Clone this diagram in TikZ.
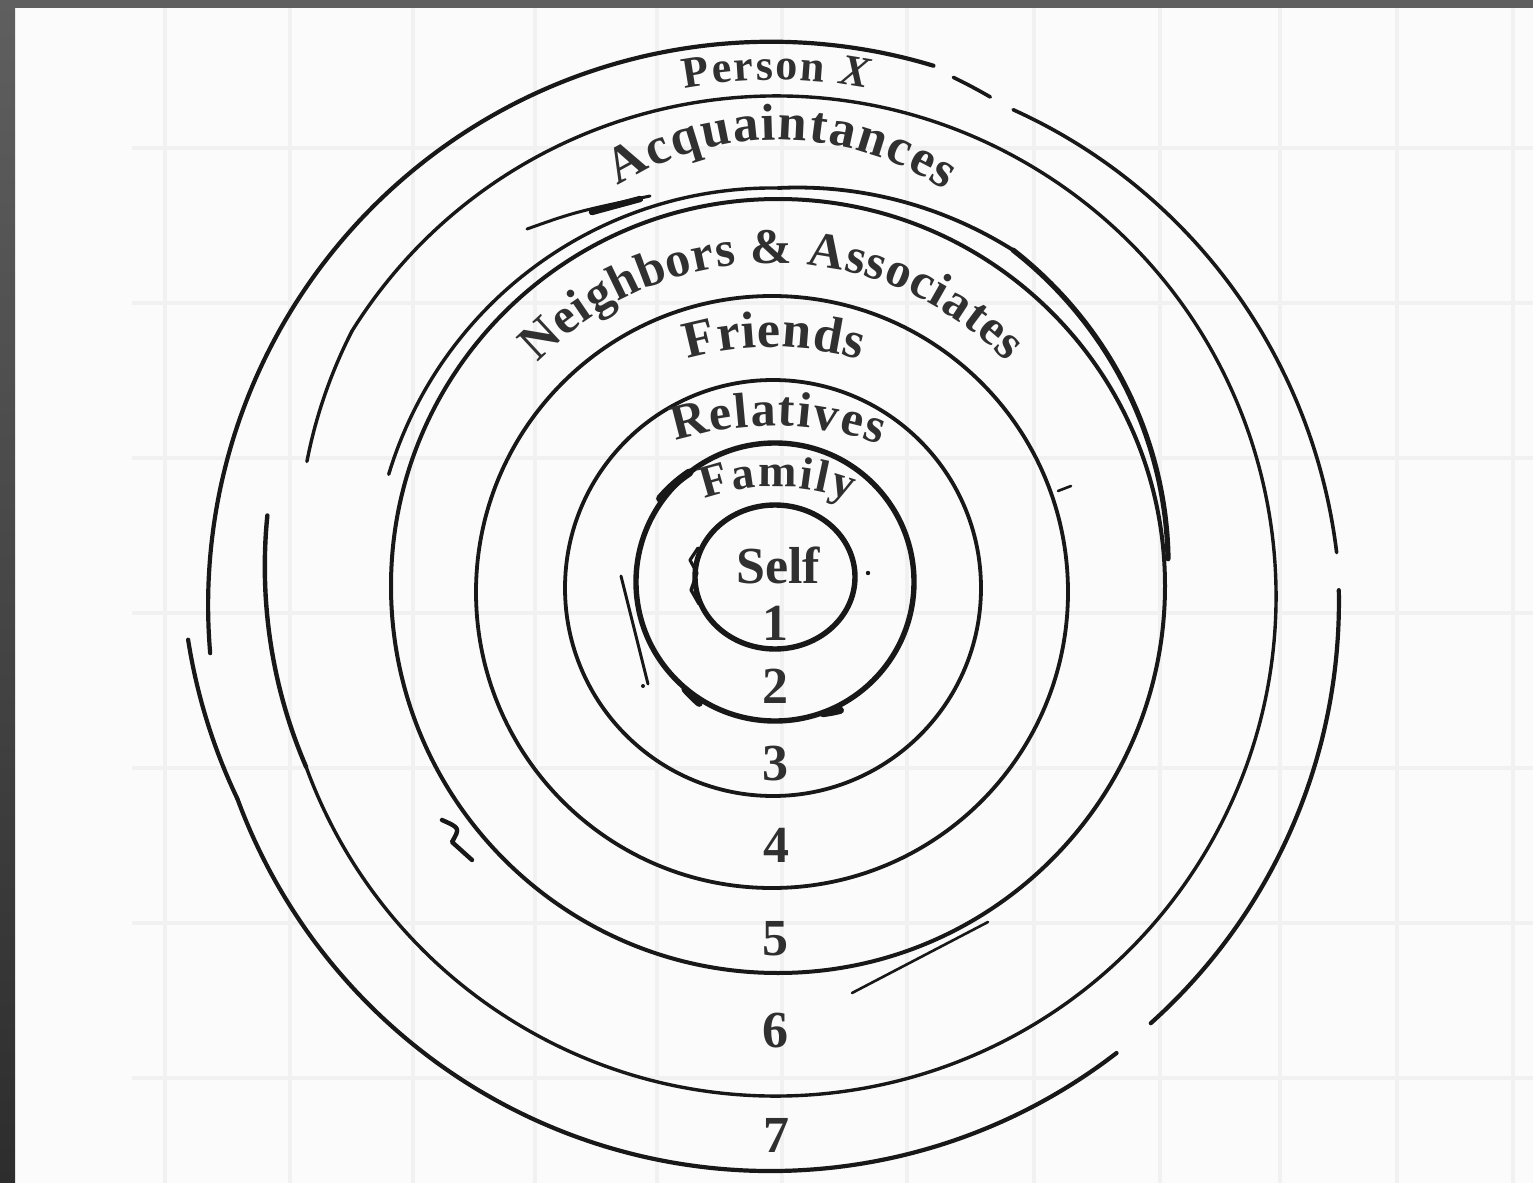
\documentclass[tikz,border=0pt]{standalone}
\usepackage{fontspec}
\setmainfont{Liberation Serif}
\usetikzlibrary{decorations.text}
\definecolor{ink}{RGB}{24,24,24}
\definecolor{txt}{RGB}{48,48,48}
\definecolor{paper}{RGB}{251,251,251}
\definecolor{gridc}{RGB}{241,241,241}
\definecolor{frameA}{RGB}{95,95,95}
\definecolor{frameB}{RGB}{45,45,45}
\newcommand\lblbase{\fontsize{26}{26}\selectfont\bfseries}
\newcommand\lblfont{\lblbase\color{txt}}
\newcommand\nbfont{\fontsize{25}{25}\selectfont\bfseries\color{txt}}
\newcommand\pxfont{\fontsize{22}{22}\selectfont\bfseries\color{txt}}
\newcommand\fmfont{\fontsize{23}{23}\selectfont\bfseries\color{txt}}
\newcommand\rlfont{\fontsize{25}{25}\selectfont\bfseries\color{txt}}
% hand drawn arc: [opts]{cx}{cy}{a1}{a2}{r1}{r2}
\newcommand\handarc[7][]{%
  \draw[ring,#1] plot[domain=#4:#5,samples=80,smooth,variable=\t]
  ({#2+(#6+((#7)-(#6))*(\t-(#4))/((#5)-(#4)))*cos(\t)},
   {#3+(#6+((#7)-(#6))*(\t-(#4))/((#5)-(#4)))*sin(\t)});}
\begin{document}
\begin{tikzpicture}[x=0.5pt,y=-0.5pt,
  ring/.style={draw=ink,line width=2pt,line cap=round,line join=round},
  num/.style={anchor=base,inner sep=0pt,font=\lblbase,text=txt}]
\useasboundingbox (0,0) rectangle (1533,1183);
\fill[paper] (0,0) rectangle (1533,1183);
% grid paper
\foreach \gx in {165,290,413,535,657,782,907,1034,1160,1280,1397,1513}
  \draw[gridc,line width=2pt] (\gx,8) -- (\gx,1183);
\foreach \gy in {148,303,458,613,768,923,1078}
  \draw[gridc,line width=2pt] (132,\gy) -- (1533,\gy);
% dark frame
\fill[frameA] (0,0) rectangle (1533,8);
\shade[top color=frameA,bottom color=frameB] (0,0) rectangle (15,1183);

% ---- ring 1 (Self)
\draw[ring,line width=2.7pt] (775,577) ellipse[x radius=80,y radius=72];
\draw[ring,line width=1.6pt] (698,548) -- (690,560) -- (697,573) -- (691,590) -- (699,604);
\fill[ink] (868,573) circle[radius=2.2];
% ---- ring 2 (Family)
\draw[ring,line width=2.7pt] (775,582) circle[radius=139];
\handarc[line width=4pt]{775}{582}{216}{232}{142}{139}
\handarc[line width=3.6pt]{775}{582}{122}{130}{143}{140}
\handarc[line width=3.6pt]{775}{582}{63}{70}{144}{140}
\fill[ink] (643,686) circle[radius=2];
\draw[ring,line width=1.5pt] (621,576) .. controls (632,620) .. (648,684);
% ---- ring 3 (Relatives)
\draw[ring,line width=1.9pt] (773,588) circle[radius=208];
% ---- ring 4 (Friends)
\draw[ring,line width=1.9pt] (772,592) circle[radius=296];
\draw[ring,line width=1.3pt] (1058,491) -- (1071,486);
% ---- ring 5 (Neighbors & Associates)
\draw[ring,line width=2pt] (778,586) circle[radius=387];
\handarc[line width=1.7pt]{778}{586}{196}{270}{405}{398}
\handarc[line width=1.9pt]{778}{586}{270}{305}{398}{410}
\handarc[line width=2.6pt]{778}{586}{305}{356}{410}{391}
\draw[ring,line width=1.5pt] (527,229) .. controls (575,212) .. (650,196);
\draw[ring,line width=3.2pt] (592,212) -- (640,199);
\draw[ring,line width=1.3pt] (988,922) -- (852,993);
\draw[ring,line width=2.2pt] (442,820) .. controls (460,828) .. (452,842) -- (472,860);
% ---- ring 6 (Acquaintances)
\handarc[line width=1.7pt]{776}{596}{196}{212}{488}{500}
\draw[ring,line width=1.7pt] (776,596) ++(212:500) arc[start angle=212,end angle=520,radius=500];
\handarc[line width=2.2pt]{776}{596}{520}{549}{500}{515}
% ---- ring 7 (Person X)
\handarc[line width=2.1pt]{772}{604}{175}{286.7}{564}{562}
\handarc[line width=1.8pt]{772}{604}{289}{293.3}{557}{552}
\handarc[line width=1.8pt]{772}{604}{296}{354.8}{550}{567}
\handarc[line width=2.1pt]{772}{604}{358.6}{407.9}{567}{565}
\handarc[line width=2.1pt]{772}{604}{412.5}{520}{566}{569}
\handarc[line width=2.1pt]{772}{604}{520}{536.5}{569}{585}

% ---- labels along the rings
\path[decorate,decoration={text along path,text align={fit to path},
  text={|\pxfont|Person |\pxfont\itshape|X}}]
  ([shift={(775,570)}]259.4:490) arc[start angle=259.4,end angle=280.9,radius=490];
\path[decorate,decoration={text along path,text align={fit to path},
  text={|\lblfont|Acquaintances}}]
  ([shift={(778,440)}]237.8:300) arc[start angle=237.8,end angle=303.8,radius=300];
\path[decorate,decoration={text along path,text align={fit to path},
  text={|\nbfont|Neighbors {\&} Associates}}]
  ([shift={(772,589)}]224:326) arc[start angle=224,end angle=316,radius=326];
\path[decorate,decoration={text along path,text align={fit to path},
  text={|\lblfont|Friends}}]
  ([shift={(772,647)}]253.7:300) arc[start angle=253.7,end angle=287,radius=300];
\path[decorate,decoration={text along path,text align={fit to path},
  text={|\rlfont|Relatives}}]
  ([shift={(772,746)}]252.4:320) arc[start angle=252.4,end angle=289.7,radius=320];
\path[decorate,decoration={text along path,text align={fit to path},
  text={|\fmfont|Family}}]
  ([shift={(776,697)}]250.2:210) arc[start angle=250.2,end angle=290.6,radius=210];

% ---- self and ring numbers
\node[num] (self) at (778,583) {Self};
\node[num] (n1) at (775,640) {1};
\node[num] (n2) at (775,703) {2};
\node[num] (n3) at (775,780) {3};
\node[num] (n4) at (776,862) {4};
\node[num] (n5) at (775,955) {5};
\node[num] (n6) at (775,1047) {6};
\node[num] (n7) at (776,1152) {7};
\end{tikzpicture}
\end{document}
